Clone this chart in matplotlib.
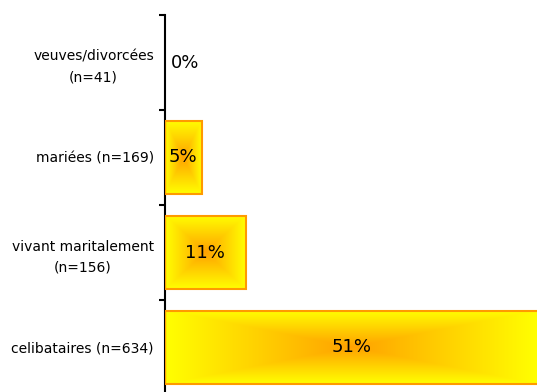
import numpy as np
import matplotlib.pyplot as plt
from matplotlib.colors import LinearSegmentedColormap
from matplotlib.patches import Rectangle

# data
categories = ["veuves/divorcées\n(n=41)", "mariées (n=169)",
              "vivant maritalement\n(n=156)", "celibataires (n=634)"]
values = [0, 5, 11, 51]
value_labels = ["0%", "5%", "11%", "51%"]

plt.rcParams['font.family'] = ['DejaVu Sans']

W, H = 537, 392
fig = plt.figure(figsize=(W / 100, H / 100), dpi=100)
# axis line at x=165px, top tick at y=15px, bands of 95px
ax = fig.add_axes([165 / W, -3 / H, 1 - 165 / W, 380 / H])

# yellow edges -> orange center, rectangular gradient
cmap = LinearSegmentedColormap.from_list("box", ["#FFA200", "#FFFF00"])
u = np.linspace(-1, 1, 200)
U, V = np.meshgrid(u, u)
grad = np.maximum(np.abs(U), np.abs(V))

bar_h = 0.77
ypos = np.arange(len(categories))[::-1]
for y, v, lab in zip(ypos, values, value_labels):
    if v > 0:
        ext = (0, v, y - bar_h / 2, y + bar_h / 2)
        ax.imshow(grad, cmap=cmap, extent=ext, aspect='auto',
                  interpolation='bilinear', zorder=2)
        ax.add_patch(Rectangle((0, y - bar_h / 2), v, bar_h, fill=False,
                               edgecolor="#FF9A00", lw=1.5, zorder=3))
        ax.text(v / 2, y, lab, ha='center', va='center', fontsize=13, zorder=4)
    else:
        ax.annotate(lab, (0, y), xytext=(4, 0), textcoords='offset points',
                    ha='left', va='center', fontsize=13)

ax.set_xlim(0, 50.8)
ax.set_ylim(-0.5, 3.5)

for s in ['top', 'right', 'bottom']:
    ax.spines[s].set_visible(False)
ax.spines['left'].set_linewidth(1.5)
ax.set_xticks([])

ax.set_yticks(ypos)
ax.set_yticklabels(categories, fontsize=10, multialignment='center',
                   linespacing=1.6)
ax.set_yticks(np.arange(-0.5, 4, 1), minor=True)
ax.tick_params(axis='y', which='major', length=0, pad=8)
ax.tick_params(axis='y', which='minor', length=4, width=1.5, direction='out')

fig.savefig("out.png", dpi=100)
